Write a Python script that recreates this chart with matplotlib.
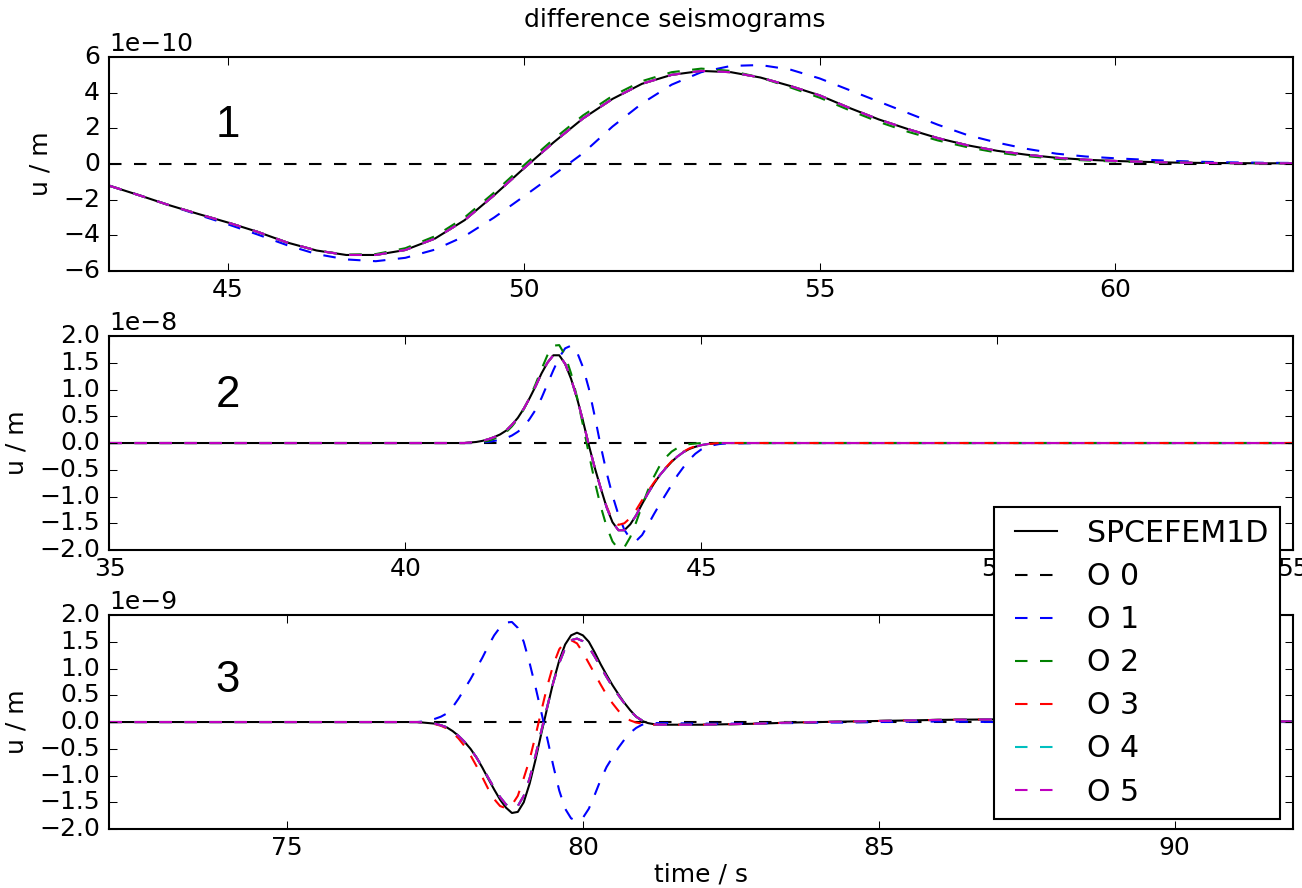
import numpy as np
import matplotlib
matplotlib.use("Agg")
import matplotlib.pyplot as plt
from matplotlib.ticker import MultipleLocator

plt.style.use('classic')
plt.rcParams['xtick.major.pad'] = 3.5
plt.rcParams['ytick.major.pad'] = 4.5

labels = ['SPCEFEM1D', 'O 0', 'O 1', 'O 2', 'O 3', 'O 4', 'O 5']
colors = ['k', 'k', 'b', 'g', 'r', 'c', 'm']

# ---------------- panel 1 (u in 1e-10 m) ----------------
t1 = np.arange(43.0, 63.01, 0.5)
spc1 = [-1.22, -1.75, -2.3, -2.8, -3.28, -3.8, -4.4, -4.85, -5.1, -5.1,
        -4.82, -4.18, -3.15, -1.75, -0.25, 1.2, 2.55, 3.65, 4.5, 5.0,
        5.22, 5.15, 4.85, 4.38, 3.85, 3.15, 2.5, 1.95, 1.45, 1.05,
        0.74, 0.52, 0.35, 0.24, 0.17, 0.12, 0.08, 0.06, 0.05, 0.04, 0.04]
o1_1 = [-1.22, -1.75, -2.3, -2.85, -3.38, -3.95, -4.55, -5.05, -5.35, -5.45,
        -5.26, -4.8, -4.05, -3.0, -1.82, -0.62, 0.6, 2.1, 3.4, 4.45,
        5.15, 5.5, 5.55, 5.3, 4.8, 4.15, 3.5, 2.85, 2.2, 1.62,
        1.2, 0.85, 0.58, 0.42, 0.32, 0.24, 0.17, 0.12, 0.09, 0.07, 0.06]
o2_1 = [-1.22, -1.75, -2.3, -2.8, -3.28, -3.8, -4.4, -4.85, -5.08, -5.05,
        -4.72, -4.05, -3.0, -1.6, -0.08, 1.38, 2.72, 3.82, 4.65, 5.15,
        5.35, 5.22, 4.85, 4.3, 3.72, 3.02, 2.36, 1.8, 1.32, 0.94,
        0.64, 0.44, 0.29, 0.2, 0.14, 0.1, 0.08, 0.06, 0.05, 0.04, 0.04]
o3_1 = spc1
o4_1 = spc1
o5_1 = spc1

# ---------------- panel 2 (u in 1e-8 m) ----------------
t2 = np.concatenate([[35.0, 40.0], np.arange(41.0, 45.41, 0.1), [46.0, 55.0]])
spc2 = [0, 0,
        0.0, 0.01, 0.02, 0.04, 0.07, 0.11, 0.16, 0.23, 0.34, 0.47,
        0.64, 0.84, 1.06, 1.3, 1.5, 1.64, 1.64, 1.48, 1.2, 0.84,
        0.42, -0.04, -0.46, -0.84, -1.2, -1.48, -1.63, -1.63, -1.52, -1.35,
        -1.14, -0.94, -0.76, -0.6, -0.47, -0.35, -0.25, -0.17, -0.11, -0.07,
        -0.04, -0.02, -0.01, 0.0, 0.0,
        0, 0]
o1_2 = [0, 0,
        0.0, 0.0, 0.0, 0.01, 0.02, 0.04, 0.06, 0.09, 0.14, 0.21,
        0.3, 0.45, 0.62, 0.84, 1.1, 1.36, 1.6, 1.77, 1.82, 1.7,
        1.42, 1.02, 0.5, -0.05, -0.55, -0.98, -1.34, -1.62, -1.79, -1.83,
        -1.72, -1.53, -1.33, -1.14, -0.96, -0.78, -0.6, -0.45, -0.31, -0.2,
        -0.12, -0.07, -0.04, -0.02, -0.01,
        0, 0]
o2_2 = [0, 0,
        0.0, 0.0, 0.01, 0.02, 0.04, 0.08, 0.13, 0.2, 0.31, 0.45,
        0.63, 0.85, 1.1, 1.38, 1.64, 1.82, 1.83, 1.64, 1.3, 0.86,
        0.34, -0.2, -0.72, -1.18, -1.56, -1.84, -1.98, -1.95, -1.76, -1.48,
        -1.17, -0.88, -0.63, -0.42, -0.27, -0.16, -0.09, -0.05, -0.02, -0.01,
        0.0, 0.0, 0.0, 0.0, 0.0,
        0, 0]
o3_2 = [0, 0,
        0.0, 0.01, 0.02, 0.04, 0.07, 0.11, 0.16, 0.23, 0.34, 0.47,
        0.64, 0.84, 1.06, 1.3, 1.5, 1.64, 1.64, 1.48, 1.2, 0.84,
        0.42, -0.04, -0.46, -0.84, -1.18, -1.45, -1.53, -1.5, -1.4, -1.25,
        -1.07, -0.9, -0.74, -0.59, -0.46, -0.34, -0.24, -0.16, -0.1, -0.06,
        -0.03, -0.02, -0.01, 0.0, 0.0,
        0, 0]
o4_2 = spc2
o5_2 = spc2

# ---------------- panel 3 (u in 1e-9 m) ----------------
t3 = np.concatenate([[72.0, 76.0], np.arange(77.0, 81.41, 0.1),
                     [82.0, 82.5, 83.0, 83.5, 84.0, 84.5, 85.0, 86.0, 87.0,
                      88.0, 89.0, 90.0, 91.0, 92.0]])
tail3 = [-0.05, -0.04, -0.03, -0.01, 0.0, 0.01, 0.02, 0.04, 0.05,
         0.05, 0.04, 0.03, 0.02, 0.01]
spc3 = [0, 0,
        0.0, 0.0, 0.0, -0.01, -0.02, -0.03, -0.06, -0.1, -0.17, -0.26,
        -0.37, -0.5, -0.66, -0.85, -1.06, -1.26, -1.45, -1.6, -1.7, -1.68,
        -1.5, -1.15, -0.7, -0.2, 0.28, 0.75, 1.15, 1.45, 1.62, 1.67,
        1.62, 1.5, 1.3, 1.08, 0.88, 0.69, 0.52, 0.36, 0.22, 0.1,
        0.02, -0.02, -0.04, -0.05, -0.05] + tail3
o1_3 = [0, 0,
        0.0, 0.0, 0.0, 0.01, 0.03, 0.06, 0.1, 0.16, 0.28, 0.44,
        0.62, 0.8, 1.0, 1.2, 1.42, 1.62, 1.77, 1.86, 1.87, 1.76,
        1.5, 1.1, 0.65, 0.17, -0.32, -0.82, -1.28, -1.62, -1.8, -1.85,
        -1.79, -1.62, -1.36, -1.08, -0.84, -0.66, -0.48, -0.33, -0.2, -0.11,
        -0.05, -0.03, -0.02, -0.02, -0.02,
        -0.03, -0.03, -0.02, -0.02, -0.01, -0.01, 0.0, 0.01, 0.0,
        -0.01, -0.01, -0.01, 0.0, 0.0]
o3_3 = [0, 0,
        0.0, 0.0, 0.0, -0.01, -0.02, -0.04, -0.07, -0.12, -0.2, -0.31,
        -0.45, -0.62, -0.82, -1.03, -1.25, -1.44, -1.57, -1.61, -1.55, -1.38,
        -1.05, -0.7, -0.25, 0.22, 0.68, 1.07, 1.36, 1.5, 1.53, 1.47,
        1.3, 1.1, 0.9, 0.7, 0.51, 0.35, 0.21, 0.1, 0.03, -0.01,
        -0.03, -0.04, -0.05, -0.05, -0.05] + tail3
o4_3 = [0, 0,
        0.0, 0.0, 0.0, -0.01, -0.02, -0.03, -0.06, -0.1, -0.17, -0.26,
        -0.37, -0.5, -0.66, -0.84, -1.04, -1.23, -1.4, -1.54, -1.61, -1.57,
        -1.38, -1.05, -0.62, -0.15, 0.3, 0.74, 1.1, 1.38, 1.53, 1.56,
        1.51, 1.4, 1.22, 1.03, 0.84, 0.66, 0.5, 0.35, 0.21, 0.1,
        0.03, -0.02, -0.04, -0.05, -0.05] + tail3
o2_3 = o4_3
o5_3 = o4_3

panels = [
    dict(t=t1, series=[spc1, o1_1, o2_1, o3_1, o4_1, o5_1], scale=1e-10,
         xlim=(43, 63), ylim=(-6, 6), ystep=2, tag='1', tagy=0.626),
    dict(t=t2, series=[spc2, o1_2, o2_2, o3_2, o4_2, o5_2], scale=1e-8,
         xlim=(35, 55), ylim=(-2, 2), ystep=0.5, tag='2', tagy=0.67),
    dict(t=t3, series=[spc3, o1_3, o2_3, o3_3, o4_3, o5_3], scale=1e-9,
         xlim=(72, 92), ylim=(-2, 2), ystep=0.5, tag='3', tagy=0.64),
]

dash = (0, (6, 6))

fig = plt.figure(figsize=(8.68, 5.92), dpi=150)
boxes = [0.6948, 0.3806, 0.0664]
axes = []
for p, b in zip(panels, boxes):
    ax = fig.add_axes([0.0841, b, 0.909, 0.241])
    axes.append(ax)
    s = p['scale']
    spc, o1, o2, o3, o4, o5 = p['series']
    ax.plot(p['t'], np.array(spc) * s, color='k', ls='-', label=labels[0])
    ax.plot(p['xlim'], [0, 0], color='k', ls=dash, label=labels[1])
    for y, c, lab in zip([o1, o2, o3, o4, o5], colors[2:], labels[2:]):
        ax.plot(p['t'], np.array(y) * s, color=c, ls=dash, label=lab)
    ax.set_xlim(p['xlim'])
    ax.set_ylim(p['ylim'][0] * s, p['ylim'][1] * s)
    ax.xaxis.set_major_locator(MultipleLocator(5))
    ax.yaxis.set_major_locator(MultipleLocator(p['ystep'] * s))
    ax.set_ylabel('u / m')
    ax.text(0.1, p['tagy'], p['tag'], transform=ax.transAxes, ha='center',
            va='baseline', fontsize=21, family='Liberation Sans')

axes[2].set_xlabel('time / s', labelpad=1)
fig.text(0.518, 0.9775, 'difference seismograms', ha='center', va='center',
         fontsize=12)

axes[2].legend(loc='upper left', bbox_to_anchor=(0.7634, 0.4291),
               bbox_transform=fig.transFigure, borderaxespad=0,
               fontsize=14.4, handlelength=2.0, handletextpad=0.7,
               labelspacing=0.47, borderpad=0.4, numpoints=2)

plt.savefig('out.png', dpi=150, facecolor='white')
